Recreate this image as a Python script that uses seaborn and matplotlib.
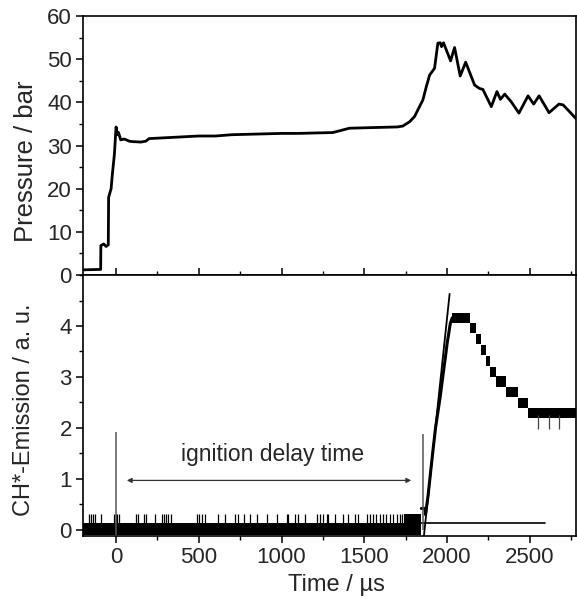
import numpy as np
import pandas as pd
import matplotlib
matplotlib.use("Agg")
import matplotlib.pyplot as plt
import seaborn as sns
from matplotlib.ticker import MultipleLocator

sns.set_theme(style="ticks")
plt.rcParams['font.family'] = ['Liberation Sans', 'DejaVu Sans']

# ---------------- data ----------------
p_time = [-200, -93, -92, -75, -60, -47, -45, -30, -22, -10, 0, 8, 15, 28, 50, 80, 100,
          150, 180, 200, 300, 400, 500, 600, 700, 800, 900, 1000, 1100, 1200, 1310,
          1410, 1500, 1600, 1700, 1733, 1774, 1804, 1834, 1854, 1875, 1895, 1925, 1945,
          1959, 1967, 1979, 2022, 2046, 2080, 2113, 2167, 2197, 2217, 2268, 2302, 2323,
          2349, 2389, 2435, 2490, 2524, 2557, 2617, 2677, 2702, 2732, 2783]
p_bar = [1.2, 1.3, 6.8, 7.2, 6.6, 7.0, 18.0, 20.0, 23.5, 28.0, 34.3, 32.5, 33.0, 31.3,
         31.5, 31.0, 30.9, 30.8, 31.0, 31.6, 31.8, 32.0, 32.2, 32.2, 32.5, 32.6, 32.7,
         32.8, 32.8, 32.9, 33.0, 34.0, 34.1, 34.2, 34.3, 34.5, 35.5, 36.7, 39.0, 40.5,
         43.6, 46.3, 47.9, 53.7, 53.8, 52.9, 53.8, 49.6, 52.7, 46.1, 49.3, 44.0, 43.2,
         43.0, 39.0, 42.5, 40.7, 41.9, 40.1, 37.5, 41.5, 39.6, 41.5, 37.6, 39.6, 39.4,
         38.2, 36.1]

# CH* emission: baseline noise band and spikes
band_time = [-200, 1845]
band_lo = [-0.10, -0.10]
band_hi = [0.13, 0.13]
upper_band_time = [1740, 1845]
upper_band_lo = [0.13, 0.13]
upper_band_hi = [0.32, 0.32]
spike_time = [-163, -152, -139, -127, -92, -12, -2, 8, 18, 119, 134, 169, 179, 235,
              279, 289, 303, 315, 335, 490, 500, 520, 536, 616, 661, 721, 737, 775,
              811, 851, 911, 972, 1032, 1042, 1082, 1102, 1143, 1213, 1233, 1253, 1273,
              1283, 1323, 1373, 1404, 1444, 1464, 1514, 1534, 1554, 1574, 1594, 1614,
              1634, 1655, 1675, 1695, 1715, 1730]
spike_top = 0.32
# rising edge of emission
rise_time = [1845, 1870, 1870, 1885, 1900, 1915, 1931, 1959, 1975, 1991, 2001, 2011, 2020, 2032]
rise_val = [0.42, 0.42, 0.30, 0.65, 1.10, 1.55, 2.00, 2.61, 3.01, 3.40, 3.66, 3.86, 4.05, 4.16]
# quantised decay plateaus (start times and lower level)
step_time = [2032, 2137, 2173, 2208, 2234, 2262, 2298, 2355, 2429, 2490, 2780]
step_lo = [4.06, 3.86, 3.65, 3.43, 3.22, 3.00, 2.81, 2.60, 2.39, 2.19, 2.19]
step_height = 0.20
down_spike_time = [2550, 2615, 2677]
down_spike_bottom = 1.97
# fitted lines
fit_rise_time = [1858, 2016]
fit_rise_val = [-0.20, 4.63]
fit_base_time = [1750, 2590]
fit_base_val = [0.13, 0.13]
marker_time = [0, 1854]
marker_top = [1.92, 1.88]
arrow_start, arrow_end, arrow_y = 65, 1784, 0.97
label_text = "ignition delay time"

# ---------------- figure ----------------
fig = plt.figure(figsize=(5.77, 6.01), dpi=100)
ax1 = fig.add_axes([0.1438, 0.5424, 0.8545, 0.4310])
ax2 = fig.add_axes([0.1438, 0.1082, 0.8545, 0.4342], sharex=ax1)

dfp = pd.DataFrame({"t": p_time, "p": p_bar})
sns.lineplot(data=dfp, x="t", y="p", ax=ax1, color="black", lw=2.0,
             estimator=None, sort=False)

# emission
ax2.fill_between(band_time, band_lo, band_hi, color="black", lw=0)
ax2.fill_between(upper_band_time, upper_band_lo, upper_band_hi, color="black", lw=0)
ax2.vlines(spike_time, 0.1, spike_top, color="black", lw=0.9)
hi = [v + step_height for v in step_lo]
ax2.fill_between(step_time, step_lo, hi, step="post", color="black", lw=0)
ax2.vlines(down_spike_time, down_spike_bottom, 2.25, color="#444444", lw=0.9)
dfr = pd.DataFrame({"t": rise_time, "v": rise_val})
sns.lineplot(data=dfr, x="t", y="v", ax=ax2, color="black", lw=2.2,
             estimator=None, sort=False)
dff = pd.DataFrame({"t": fit_rise_time, "v": fit_rise_val})
sns.lineplot(data=dff, x="t", y="v", ax=ax2, color="black", lw=1.3,
             estimator=None, sort=False)
dfb = pd.DataFrame({"t": fit_base_time, "v": fit_base_val})
sns.lineplot(data=dfb, x="t", y="v", ax=ax2, color="black", lw=1.2,
             estimator=None, sort=False)
ax2.vlines(marker_time, [-0.1, 0.0], marker_top, color="#555555", lw=1.1)
ax2.annotate("", xy=(arrow_start, arrow_y), xytext=(arrow_end, arrow_y),
             arrowprops=dict(arrowstyle="<|-|>", color="#333333", lw=0.9,
                             mutation_scale=7, shrinkA=0, shrinkB=0))
ax2.text((arrow_start + arrow_end) / 2 + 20, 1.47, label_text, fontsize=16.5,
         ha="center", va="center")

# ---------------- axes styling ----------------
for ax in (ax1, ax2):
    for s in ax.spines.values():
        s.set_linewidth(1.2)
        s.set_color("black")
        s.set_visible(True)
    ax.xaxis.set_major_locator(MultipleLocator(500))
    ax.xaxis.set_minor_locator(MultipleLocator(250))
    ax.tick_params(axis="both", which="major", length=5, width=1.1, labelsize=16,
                   color="black", pad=3)
    ax.tick_params(axis="both", which="minor", length=3, width=1.0, color="black")
    ax.tick_params(axis="y", which="both", direction="out", left=True, right=False)
    ax.set_facecolor("white")

ax1.set_xlim(-200, 2780)
ax1.set_ylim(0, 60)
ax1.yaxis.set_major_locator(MultipleLocator(10))
ax1.yaxis.set_minor_locator(MultipleLocator(5))
ax1.tick_params(axis="x", which="both", direction="in", bottom=True, top=False,
                labelbottom=False)
ax1.set_xlabel("")
ax1.set_ylabel("Pressure / bar", fontsize=18.5)
ax1.yaxis.set_label_coords(-0.092, 0.44)

ax2.set_ylim(-0.12, 5.0)
ax2.yaxis.set_major_locator(MultipleLocator(1))
ax2.yaxis.set_minor_locator(MultipleLocator(0.5))
ax2.set_yticks([0, 1, 2, 3, 4])
ax2.tick_params(axis="x", which="both", direction="out", bottom=True, top=False)
ax2.set_xlabel("Time / µs", fontsize=17)
ax2.xaxis.set_label_coords(0.515, -0.145)
ax2.set_ylabel("CH*-Emission / a. u.", fontsize=17)
ax2.yaxis.set_label_coords(-0.098, 0.483)

fig.savefig("out.png", dpi=100, facecolor="white")
